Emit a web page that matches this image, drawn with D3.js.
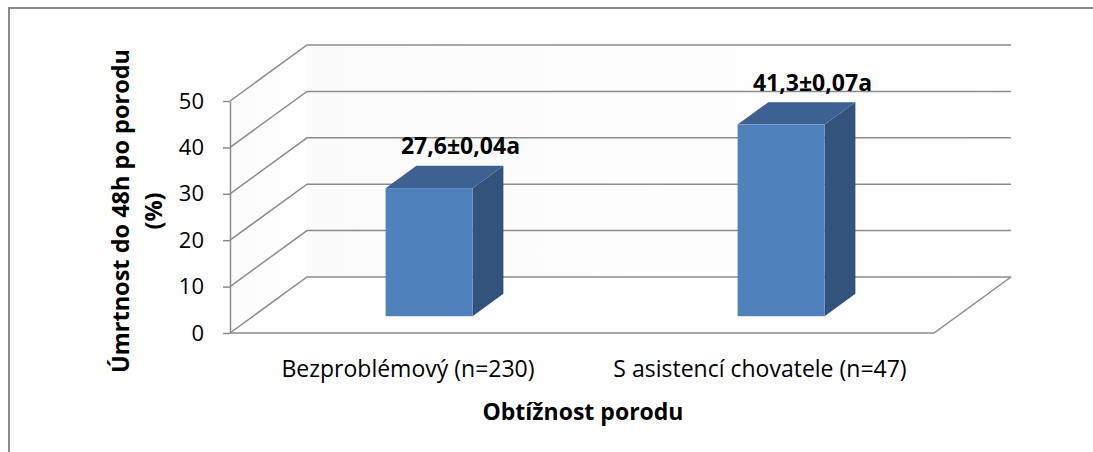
<!DOCTYPE html>
<html>
<head>
<meta charset="utf-8">
<script src="https://cdn.jsdelivr.net/npm/d3@7"></script>
<style>
  html, body { margin: 0; padding: 0; background: #fff; }
  svg { display: block; font-family: "Open Sans", sans-serif; }
</style>
</head>
<body>
<svg id="chart" width="1093" height="452"></svg>
<script>
// ---- data ----
const categories = ["Bezproblémový (n=230)", "S asistencí chovatele (n=47)"];
const values = [27.6, 41.3];
const valueLabels = ["27,6±0,04a", "41,3±0,07a"];
const yTicks = [0, 10, 20, 30, 40, 50];
const yTitleLines = ["Úmrtnost do 48h po porodu", "(%)"];
const xTitle = "Obtížnost porodu";

// ---- layout ----
const svg = d3.select("#chart");
const W = 1093, H = 452;
const plot = { left: 230, right: 934, top: 101, bottom: 333 };
const depth = { dx: 77, dy: -56 };
const barDepth0 = 0.3, barDepth1 = 0.7;
const barWidth = 87;
const gridColor = "#8c8c8c";

const y = d3.scaleLinear().domain([0, 50]).range([plot.bottom, plot.top]);
const x = d3.scaleBand().domain(categories).range([plot.left, plot.right]);

// outer frame
svg.append("rect")
  .attr("x", 9).attr("y", 8).attr("width", W + 50).attr("height", H + 50)
  .attr("fill", "none").attr("stroke", "#8a8a8a").attr("stroke-width", 2);

// walls
const grad = svg.append("defs").append("linearGradient")
  .attr("id", "wallg").attr("x1", 0).attr("y1", 0).attr("x2", 1).attr("y2", 0);
grad.append("stop").attr("offset", "0%").attr("stop-color", "#fbfbfb");
grad.append("stop").attr("offset", "100%").attr("stop-color", "#ffffff");

const backX0 = plot.left + depth.dx, backX1 = plot.right + depth.dx;
svg.append("path")
  .attr("d", `M${plot.left},${y(0)}L${plot.left},${y(50)}L${backX0},${y(50) + depth.dy}L${backX0},${y(0) + depth.dy}Z`)
  .attr("fill", "url(#wallg)");
svg.append("rect")
  .attr("x", backX0).attr("y", y(50) + depth.dy)
  .attr("width", backX1 - backX0).attr("height", y(0) - y(50))
  .attr("fill", "url(#wallg)");

// gridlines (side wall diagonal + back wall horizontal)
svg.append("g").selectAll("path").data(yTicks).join("path")
  .attr("d", t => `M${plot.left},${y(t)}L${backX0},${y(t) + depth.dy}L${backX1},${y(t) + depth.dy}`)
  .attr("fill", "none").attr("stroke", gridColor).attr("stroke-width", 1.5);

// floor front edge and right edge
svg.append("path")
  .attr("d", `M${plot.left},${y(0)}L${plot.right},${y(0)}L${backX1},${y(0) + depth.dy}`)
  .attr("fill", "none").attr("stroke", gridColor).attr("stroke-width", 1.5);

// y axis
const yAxis = svg.append("g")
  .attr("transform", `translate(${plot.left},0)`)
  .call(d3.axisLeft(y).tickValues(yTicks).tickSize(7).tickSizeOuter(0).tickPadding(19));
yAxis.select(".domain").attr("stroke", gridColor).attr("stroke-width", 1.5);
yAxis.selectAll(".tick line").attr("stroke", gridColor).attr("stroke-width", 1.5);
yAxis.selectAll(".tick text")
  .attr("font-size", 22).attr("fill", "#000")
  .attr("font-family", "Open Sans, sans-serif");

// bars
const bars = values.map((v, i) => {
  const c = categories[i];
  const fx0 = x(c) + (x.bandwidth() - barWidth) / 2 + barDepth0 * depth.dx;
  const fx1 = fx0 + barWidth;
  const fyTop = y(v) + barDepth0 * depth.dy;
  const fyBot = y(0) + barDepth0 * depth.dy;
  const ddx = (barDepth1 - barDepth0) * depth.dx;
  const ddy = (barDepth1 - barDepth0) * depth.dy;
  return { v, i, fx0, fx1, fyTop, fyBot, ddx, ddy };
});

const gBars = svg.append("g");
gBars.selectAll("path.side").data(bars).join("path")
  .attr("class", "side")
  .attr("d", b => `M${b.fx1},${b.fyTop}L${b.fx1 + b.ddx},${b.fyTop + b.ddy}L${b.fx1 + b.ddx},${b.fyBot + b.ddy}L${b.fx1},${b.fyBot}Z`)
  .attr("fill", "#33537d");
gBars.selectAll("path.top").data(bars).join("path")
  .attr("class", "top")
  .attr("d", b => `M${b.fx0},${b.fyTop}L${b.fx0 + b.ddx},${b.fyTop + b.ddy}L${b.fx1 + b.ddx},${b.fyTop + b.ddy}L${b.fx1},${b.fyTop}Z`)
  .attr("fill", "#3d6291");
gBars.selectAll("rect.front").data(bars).join("rect")
  .attr("class", "front")
  .attr("x", b => b.fx0).attr("y", b => b.fyTop)
  .attr("width", barWidth).attr("height", b => b.fyBot - b.fyTop)
  .attr("fill", "#4f81bd");

// value labels
svg.append("g").selectAll("text").data(bars).join("text")
  .attr("x", b => (b.fx0 + b.fx1) / 2 + b.ddx / 2 + 16)
  .attr("y", b => b.fyTop - 34)
  .attr("text-anchor", "middle")
  .attr("font-size", 23).attr("font-weight", "bold").attr("fill", "#000")
  .text(b => valueLabels[b.i]);

// category labels
svg.append("g").selectAll("text").data(categories).join("text")
  .attr("x", c => x(c) + x.bandwidth() / 2 + 2)
  .attr("y", 377)
  .attr("text-anchor", "middle")
  .attr("font-size", 23).attr("fill", "#000")
  .text(c => c);

// x title
svg.append("text")
  .attr("x", (plot.left + plot.right) / 2 + 1)
  .attr("y", 420)
  .attr("text-anchor", "middle")
  .attr("font-size", 23).attr("font-weight", "bold").attr("fill", "#000")
  .text(xTitle);

// y title
const yt = svg.append("text")
  .attr("transform", `translate(129,211) rotate(-90)`)
  .attr("text-anchor", "middle")
  .attr("font-size", 23.5).attr("font-weight", "bold").attr("fill", "#000");
yTitleLines.forEach((line, i) => {
  yt.append("tspan").attr("x", 0).attr("dy", i === 0 ? 0 : 33).text(line);
});
</script>
</body>
</html>
